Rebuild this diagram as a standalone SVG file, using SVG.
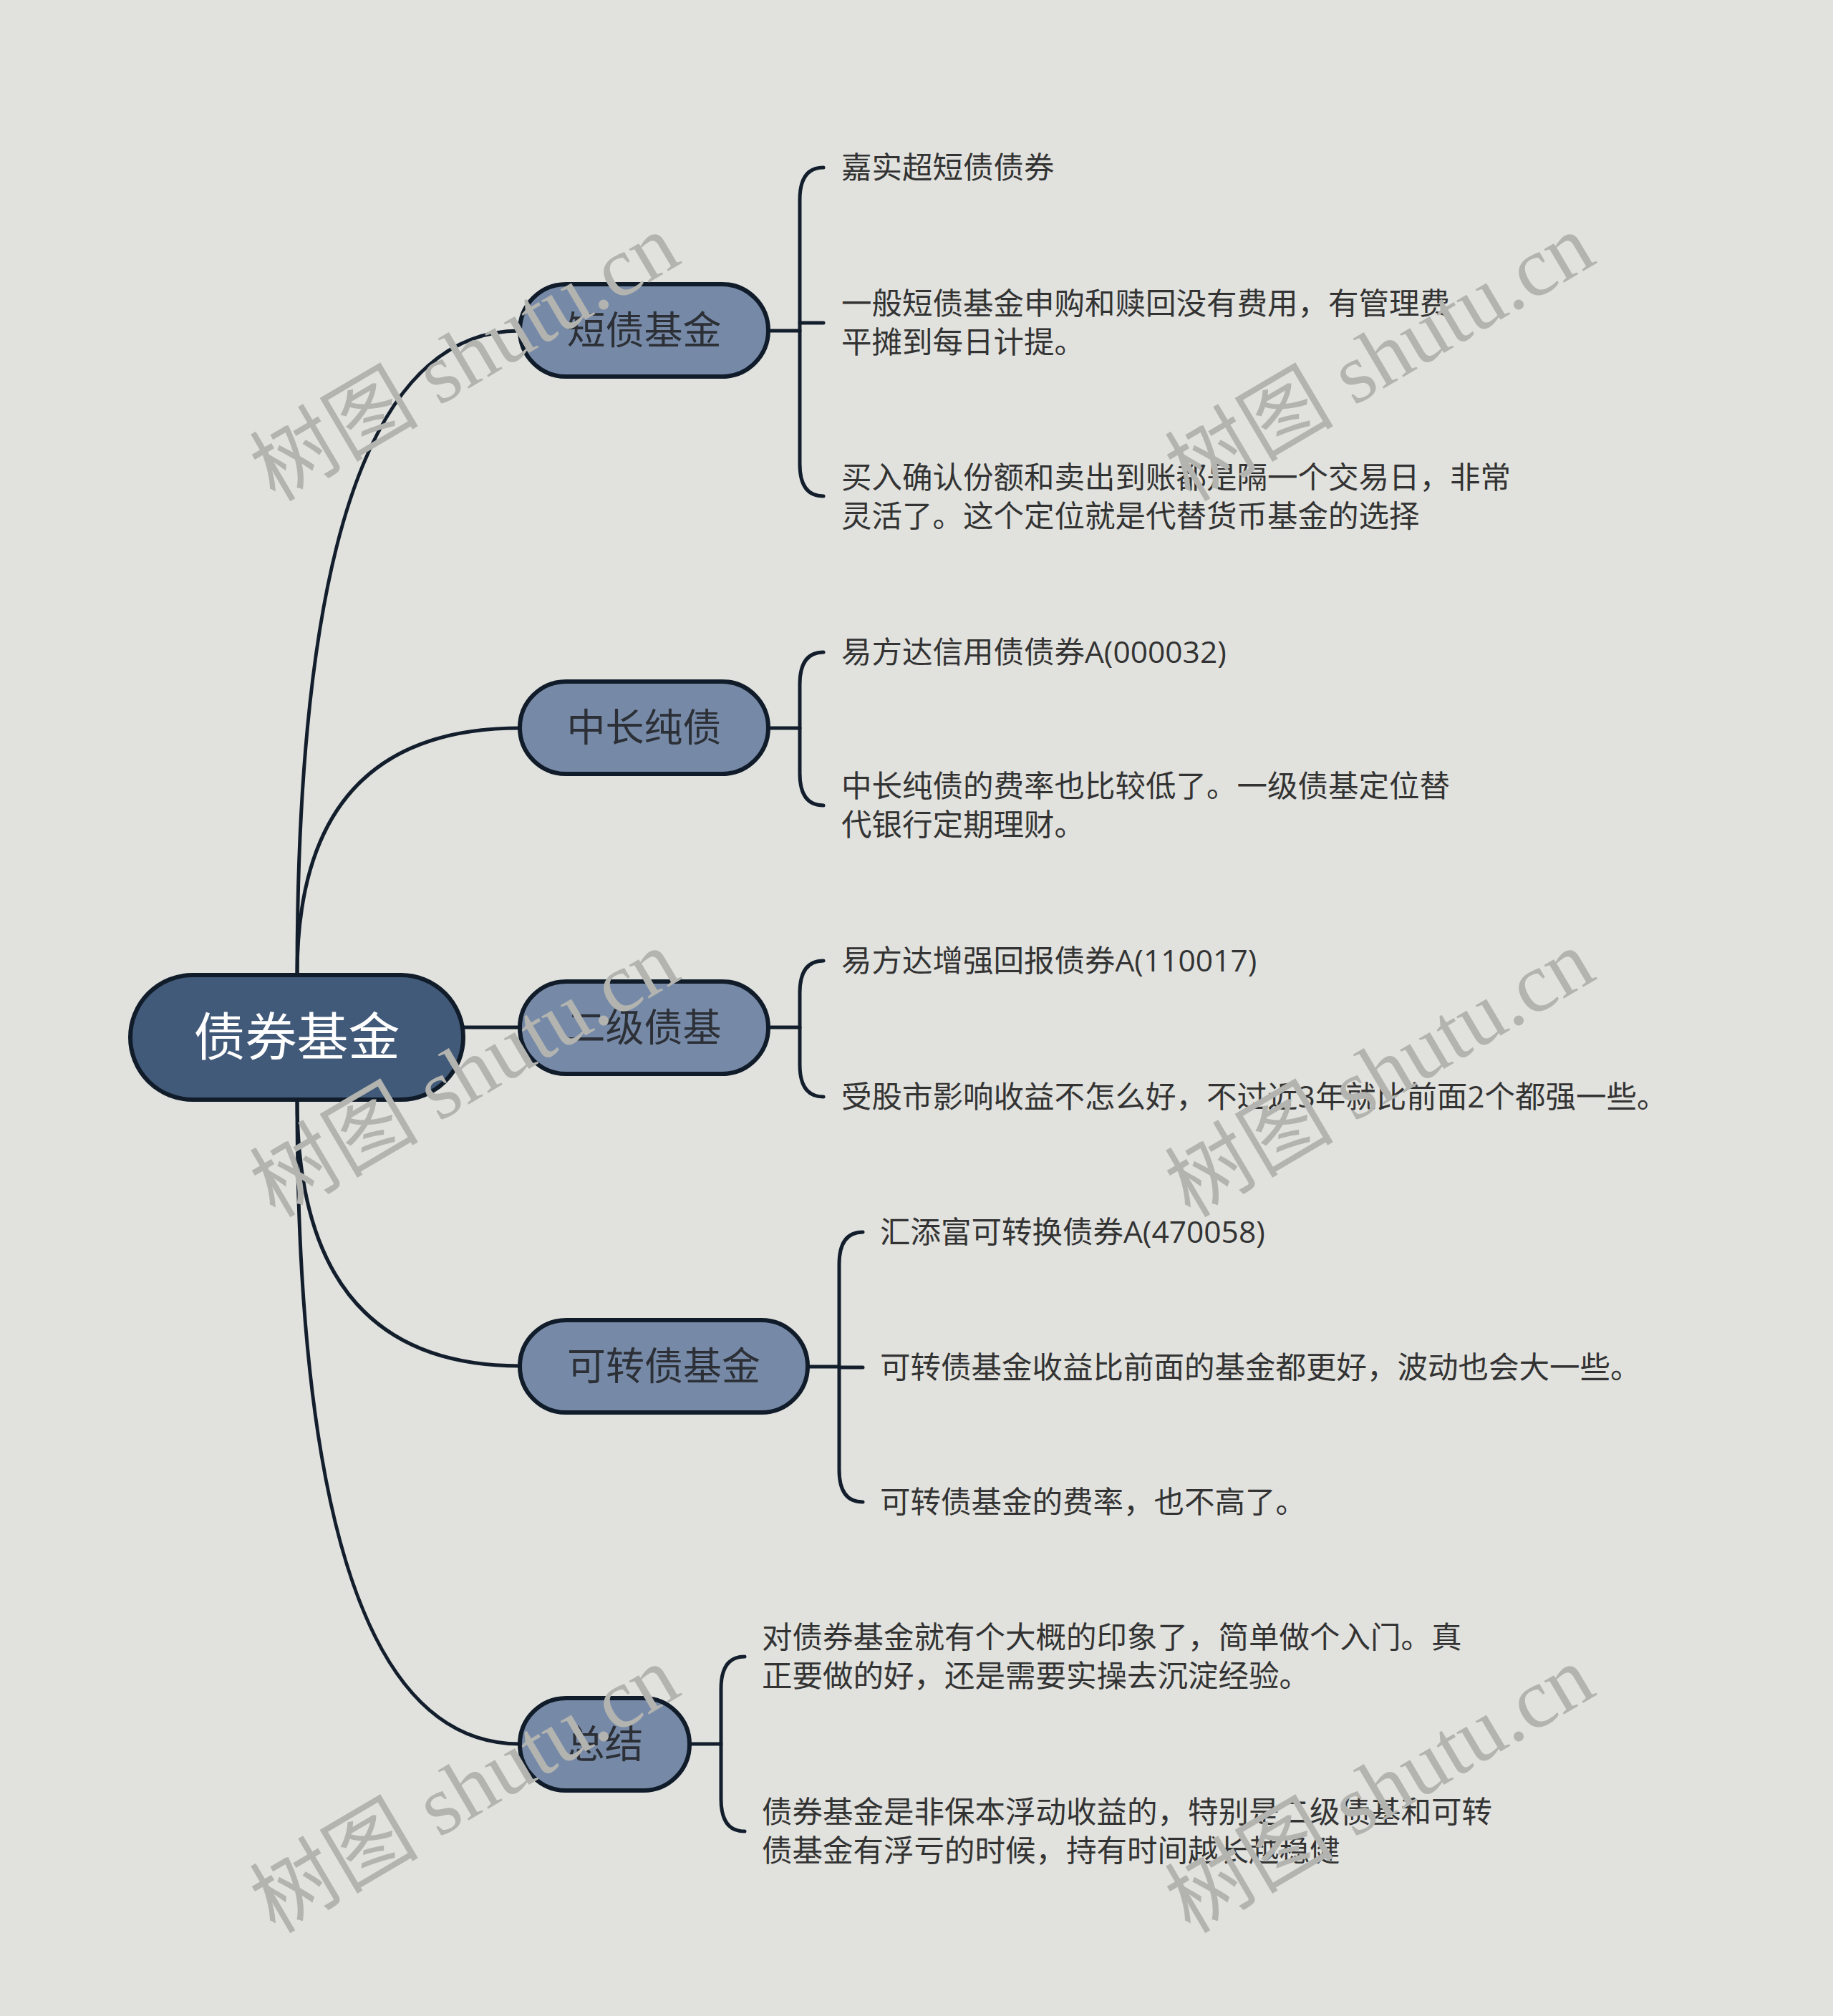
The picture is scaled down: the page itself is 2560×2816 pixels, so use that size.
<svg xmlns="http://www.w3.org/2000/svg" width="2560" height="2816" viewBox="0 0 2560 2816">
<style>
.bg{fill:#e1e2de}
.root rect{fill:#425a79;stroke:#111c2a;stroke-width:6}
.root text{fill:#ffffff;font-size:72px}
.l1 rect{fill:#768aa8;stroke:#111c2a;stroke-width:6}
.l1 text{fill:#2c3036;font-size:54px}
text{font-family:"Open Sans","Noto Sans CJK SC",sans-serif}
.leaf text{fill:#333333;font-size:42.5px}
.conn path{fill:none;stroke:#131e2d;stroke-width:5;stroke-linecap:round}
.wm text{fill:#b3b4b0;font-family:"Liberation Serif","Noto Sans CJK SC",serif;font-size:118px}
</style>
<rect class="bg" x="0" y="0" width="2560" height="2816"/>

<g id="connectors" class="conn">
  <path d="M415 1362 Q415 462 726 462"/>
  <path d="M415 1362 Q415 1017 726 1017"/>
  <path d="M647 1435 L726 1435"/>
  <path d="M415 1536 Q415 1908 726 1908"/>
  <path d="M415 1536 Q415 2436 726 2436"/>
  <path d="M1073 462 L1117 462"/>
  <path d="M1150 234 Q1117 234 1117 279 L1117 648 Q1117 693 1150 693"/>
  <path d="M1117 451 L1150 451"/>
  <path d="M1073 1017 L1117 1017"/>
  <path d="M1150 911 Q1117 911 1117 956 L1117 1080 Q1117 1125 1150 1125"/>
  <path d="M1073 1435 L1117 1435"/>
  <path d="M1150 1342 Q1117 1342 1117 1387 L1117 1487 Q1117 1532 1150 1532"/>
  <path d="M1128 1909 L1172 1909"/>
  <path d="M1205 1721 Q1172 1721 1172 1766 L1172 2053 Q1172 2098 1205 2098"/>
  <path d="M1172 1910 L1205 1910"/>
  <path d="M963 2436 L1007 2436"/>
  <path d="M1040 2314 Q1007 2314 1007 2359 L1007 2513 Q1007 2558 1040 2558"/>
</g>

<g id="root" class="root">
  <rect x="182" y="1362" width="465" height="174" rx="87"/>
  <text x="414.5" y="1474" text-anchor="middle">债券基金</text>
</g>

<g id="n-duanzhai" class="l1">
  <rect x="726" y="397" width="347" height="129" rx="64.5"/>
  <text x="899.5" y="481" text-anchor="middle">短债基金</text>
</g>
<g id="n-zhongchang" class="l1">
  <rect x="726" y="952" width="347" height="129" rx="64.5"/>
  <text x="899.5" y="1036" text-anchor="middle">中长纯债</text>
</g>
<g id="n-erji" class="l1">
  <rect x="726" y="1371" width="347" height="129" rx="64.5"/>
  <text x="899.5" y="1455" text-anchor="middle">二级债基</text>
</g>
<g id="n-kezhuan" class="l1">
  <rect x="726" y="1844" width="402" height="129" rx="64.5"/>
  <text x="927" y="1928" text-anchor="middle">可转债基金</text>
</g>
<g id="n-zongjie" class="l1">
  <rect x="726" y="2372" width="237" height="129" rx="64.5"/>
  <text x="844.5" y="2456" text-anchor="middle">总结</text>
</g>

<g id="leaf-1" class="leaf"><text x="1175" y="249">嘉实超短债债券</text></g>
<g id="leaf-2" class="leaf"><text x="1175" y="439">一般短债基金申购和赎回没有费用，有管理费</text><text x="1175" y="493">平摊到每日计提。</text></g>
<g id="leaf-3" class="leaf"><text x="1175" y="682">买入确认份额和卖出到账都是隔一个交易日，非常</text><text x="1175" y="736">灵活了。这个定位就是代替货币基金的选择</text></g>
<g id="leaf-4" class="leaf"><text x="1175" y="926">易方达信用债债券A(000032)</text></g>
<g id="leaf-5" class="leaf"><text x="1175" y="1113">中长纯债的费率也比较低了。一级债基定位替</text><text x="1175" y="1167">代银行定期理财。</text></g>
<g id="leaf-6" class="leaf"><text x="1175" y="1357">易方达增强回报债券A(110017)</text></g>
<g id="leaf-7" class="leaf"><text x="1175" y="1547">受股市影响收益不怎么好，不过近3年就比前面2个都强一些。</text></g>
<g id="leaf-8" class="leaf"><text x="1229" y="1736">汇添富可转换债券A(470058)</text></g>
<g id="leaf-9" class="leaf"><text x="1229" y="1925">可转债基金收益比前面的基金都更好，波动也会大一些。</text></g>
<g id="leaf-10" class="leaf"><text x="1229" y="2113">可转债基金的费率，也不高了。</text></g>
<g id="leaf-11" class="leaf"><text x="1064" y="2302">对债券基金就有个大概的印象了，简单做个入门。真</text><text x="1064" y="2356">正要做的好，还是需要实操去沉淀经验。</text></g>
<g id="leaf-12" class="leaf"><text x="1064" y="2546">债券基金是非保本浮动收益的，特别是二级债基和可转</text><text x="1064" y="2600">债基金有浮亏的时候，持有时间越长越稳健</text></g>

<g id="watermarks" class="wm">
  <text transform="translate(384 702) rotate(-30.5)">树图 shutu.cn</text>
  <text transform="translate(1662 702) rotate(-30.5)">树图 shutu.cn</text>
  <text transform="translate(384 1702) rotate(-30.5)">树图 shutu.cn</text>
  <text transform="translate(1662 1702) rotate(-30.5)">树图 shutu.cn</text>
  <text transform="translate(384 2702) rotate(-30.5)">树图 shutu.cn</text>
  <text transform="translate(1662 2702) rotate(-30.5)">树图 shutu.cn</text>
</g>
</svg>
